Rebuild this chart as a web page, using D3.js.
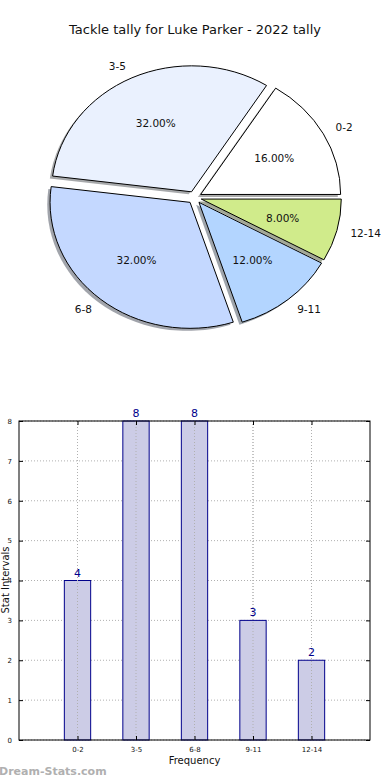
<!DOCTYPE html>
<html><head><meta charset="utf-8">
<script src="https://cdn.jsdelivr.net/npm/d3@7/dist/d3.min.js"></script>
<style>body{margin:0;background:#fff}svg{display:block}text{font-family:"DejaVu Sans",sans-serif}</style>
</head><body>
<script>
const title = "Tackle tally for Luke Parker - 2022 tally";
const categories = ["0-2","3-5","6-8","9-11","12-14"];
const values = [4,8,8,3,2];
const pieColors = ["#ffffff","#eaf1fe","#c4d8ff","#b3d5ff","#d0eb8b"];
const yTicks = [0,1,2,3,4,5,6,7,8];

const W=390,H=780;
const svg=d3.select("body").append("svg").attr("width",W).attr("height",H);

svg.append("text").attr("x",195).attr("y",34).attr("text-anchor","middle")
  .attr("font-size",13).attr("fill","#111").text(title);

// ---- Pie ----
const cx=194.5, cy=197.5, rx=140, ry=126, explode=0.05;
const total=d3.sum(values);
const pie=d3.pie().sort(null).value(d=>d).startAngle(Math.PI/2).endAngle(Math.PI/2-2*Math.PI);
const arcs=pie(values);
const arc=d3.arc().innerRadius(0).outerRadius(1);
const pg=svg.append("g");
function off(a,k){return [Math.sin(a)*k*rx, -Math.cos(a)*k*ry];}
// shadows
arcs.forEach((d,i)=>{
  const m=(d.startAngle+d.endAngle)/2; const [ox,oy]=off(m,explode);
  pg.append("path").attr("d",arc(d))
    .attr("transform",`translate(${cx+ox-0.02*rx},${cy+oy+0.02*ry}) scale(${rx},${ry})`)
    .attr("fill",d3.color(pieColors[i]).darker(3)).attr("fill-opacity",0.5);
});
arcs.forEach((d,i)=>{
  const m=(d.startAngle+d.endAngle)/2; const [ox,oy]=off(m,explode);
  pg.append("path").attr("d",arc(d))
    .attr("transform",`translate(${cx+ox},${cy+oy}) scale(${rx},${ry})`)
    .attr("fill",pieColors[i]).attr("stroke","#000").attr("stroke-width",1)
    .attr("vector-effect","non-scaling-stroke");
});
arcs.forEach((d,i)=>{
  const m=(d.startAngle+d.endAngle)/2; const [ox,oy]=off(m,explode);
  const [lx,ly]=off(m,1.1), [px,py]=off(m,0.6);
  pg.append("text").attr("x",cx+ox+lx).attr("y",cy+oy+ly).attr("dy","0.35em")
    .attr("text-anchor",lx>0?"start":"end").attr("font-size",10.5).attr("fill","#111")
    .text(categories[i]);
  pg.append("text").attr("x",cx+ox+px).attr("y",cy+oy+py).attr("dy","0.35em")
    .attr("text-anchor","middle").attr("font-size",10.5).attr("fill","#111")
    .text((values[i]/total*100).toFixed(2)+"%");
});

// ---- Bar chart ----
const L=19,R=370,T=421,B=740;
const x=d3.scaleLinear().domain([-1,5]).range([L,R]);
const y=d3.scaleLinear().domain([0,8]).range([B,T]);
const bw=0.45;
const bg=svg.append("g");
// grid
bg.selectAll(".hg").data(yTicks).join("line").attr("x1",L).attr("x2",R)
  .attr("y1",d=>y(d)).attr("y2",d=>y(d)).attr("stroke","#b0b0b0").attr("stroke-width",1)
  .attr("stroke-dasharray","1,2");
bg.selectAll(".vg").data(categories).join("line").attr("y1",T).attr("y2",B)
  .attr("x1",(d,i)=>x(i)).attr("x2",(d,i)=>x(i)).attr("stroke","#b0b0b0").attr("stroke-width",1)
  .attr("stroke-dasharray","1,2");
// bars
bg.selectAll(".bar").data(values).join("rect")
  .attr("x",(d,i)=>x(i-bw/2)).attr("width",(d,i)=>x(i+bw/2)-x(i-bw/2))
  .attr("y",d=>y(d)).attr("height",d=>B-y(d))
  .attr("fill","#ccccE6").attr("stroke","#00008b").attr("stroke-width",1);
bg.selectAll(".bar-grid").data(categories).join("line").attr("y1",T).attr("y2",B)
  .attr("x1",(d,i)=>x(i)).attr("x2",(d,i)=>x(i)).attr("stroke","#b0b0b0").attr("stroke-width",1)
  .attr("stroke-dasharray","1,2");
bg.selectAll(".vl").data(values).join("text")
  .attr("x",(d,i)=>x(i)).attr("y",d=>y(d)-4).attr("text-anchor","middle")
  .attr("font-size",11).attr("fill","#00008b").text(d=>d);
// frame
bg.append("rect").attr("x",L).attr("y",T).attr("width",R-L).attr("height",B-T)
  .attr("fill","none").attr("stroke","#000").attr("stroke-width",1);
// axes (ticks inward)
const yl=d3.axisLeft(y).tickValues(yTicks).tickSize(-4).tickPadding(7).tickFormat(d3.format("d"));
const ya=bg.append("g").attr("transform",`translate(${L},0)`).call(yl);
const yr=bg.append("g").attr("transform",`translate(${R},0)`).call(d3.axisRight(y).tickValues(yTicks).tickSize(-4).tickFormat(""));
const xb=bg.append("g").attr("transform",`translate(0,${B})`)
  .call(d3.axisBottom(x).tickValues([0,1,2,3,4]).tickSize(-4).tickPadding(7).tickFormat(i=>categories[i]));
const xt=bg.append("g").attr("transform",`translate(0,${T})`)
  .call(d3.axisTop(x).tickValues([0,1,2,3,4]).tickSize(-4).tickFormat(""));
[ya,yr,xb,xt].forEach(g=>{g.select(".domain").remove();g.selectAll("line").attr("stroke","#000");
  g.selectAll("text").attr("font-size",7).attr("font-family","DejaVu Sans").attr("fill","#111");});
svg.append("text").attr("x",194.5).attr("y",764).attr("text-anchor","middle")
  .attr("font-size",10).attr("fill","#111").text("Frequency");
svg.append("text").attr("transform","translate(8.5,580) rotate(-90)").attr("text-anchor","middle")
  .attr("font-size",10).attr("fill","#111").text("Stat Intervals");
svg.append("text").attr("x",-1).attr("y",775).attr("font-size",11).attr("font-weight","bold")
  .attr("font-family","DejaVu Sans").attr("fill","#b0b0b0").text("Dream-Stats.com");
</script>
</body></html>
